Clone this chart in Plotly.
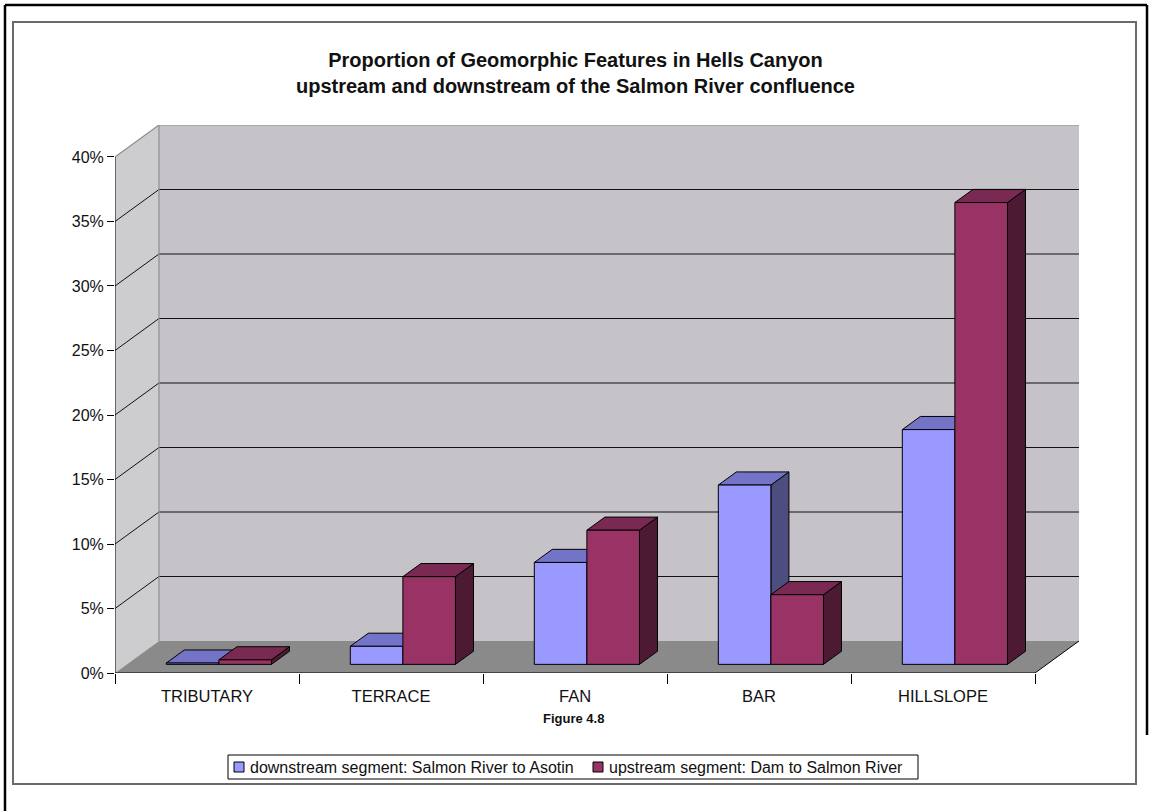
import plotly.graph_objects as go

# ---- data -------------------------------------------------------------
categories = ["TRIBUTARY", "TERRACE", "FAN", "BAR", "HILLSLOPE"]
downstream = [0.1, 1.4, 7.9, 13.9, 18.2]   # % of features, Salmon River to Asotin
upstream = [0.35, 6.8, 10.4, 5.4, 35.8]    # % of features, Dam to Salmon River
series_names = [
    "downstream segment: Salmon River to Asotin",
    "upstream segment: Dam to Salmon River",
]
y_ticks = [0, 5, 10, 15, 20, 25, 30, 35, 40]
y_tick_labels = [f"{v}%" for v in y_ticks]

# ---- layout geometry --------------------------------------------------
W, H = 1151, 811
ML, MR, MT, MB = 115, 72, 125, 138
PW, PH = W - ML - MR, H - MT - MB

FONT = "Liberation Sans, Arial, sans-serif"
Y_MAX = 40
DX = 0.239          # depth of the 3-D box along x (category units)
DY = 2.48           # depth of the 3-D box along y (percent units)
X0, X1 = -0.5, len(categories) - 0.5
BAR_W = 1 / 3.5     # gap width 150%
F_FRONT, F_BACK = 0.27, 0.68   # bar front/back planes as a fraction of depth

FACE = {
    "down": {"front": "#9999FF", "top": "#7373C8", "side": "#4D4D80"},
    "up": {"front": "#993366", "top": "#7A2952", "side": "#4D1A33"},
}


def px_x(p):
    return (p - ML) / PW


def px_y(p):
    return (H - MB - p) / PH


def poly(pts):
    return "M " + " L ".join(f"{x},{y}" for x, y in pts) + " Z"


shapes = []
# side wall
shapes.append(dict(type="path", xref="x", yref="y", layer="below",
                   path=poly([(X0, 0), (X0 + DX, DY), (X0 + DX, Y_MAX + DY), (X0, Y_MAX)]),
                   fillcolor="#CDCDCF", line=dict(width=0)))
# back wall
shapes.append(dict(type="rect", xref="x", yref="y", layer="below",
                   x0=X0 + DX, x1=X1 + DX, y0=DY, y1=Y_MAX + DY,
                   fillcolor="#C5C3C7", line=dict(width=0)))
# floor
shapes.append(dict(type="path", xref="x", yref="y", layer="below",
                   path=poly([(X0, 0), (X1, 0), (X1 + DX, DY), (X0 + DX, DY)]),
                   fillcolor="#8A8A8A", line=dict(width=0)))
# gridlines on back wall and side wall
for k in y_ticks[1:-1]:
    shapes.append(dict(type="line", xref="x", yref="y", layer="below",
                       x0=X0 + DX, x1=X1 + DX, y0=k + DY, y1=k + DY,
                       line=dict(color="#111111", width=1)))
    shapes.append(dict(type="line", xref="x", yref="y", layer="below",
                       x0=X0, x1=X0 + DX, y0=k, y1=k + DY,
                       line=dict(color="#111111", width=1)))
# wall edges
for seg in [((X0, Y_MAX), (X0 + DX, Y_MAX + DY)),
            ((X0 + DX, Y_MAX + DY), (X1 + DX, Y_MAX + DY)),
            ((X0 + DX, DY), (X0 + DX, Y_MAX + DY))]:
    shapes.append(dict(type="line", xref="x", yref="y", layer="below",
                       x0=seg[0][0], y0=seg[0][1], x1=seg[1][0], y1=seg[1][1],
                       line=dict(color="#8E8E8E", width=1.2)))
# front axes
for seg in [((X0, 0), (X0, Y_MAX)), ((X0, 0), (X1, 0)), ((X1, 0), (X1 + DX, DY))]:
    shapes.append(dict(type="line", xref="x", yref="y", layer="above",
                       x0=seg[0][0], y0=seg[0][1], x1=seg[1][0], y1=seg[1][1],
                       line=dict(color="#000000", width=1)))

# outer frames
shapes.append(dict(type="rect", xref="paper", yref="paper",
                   x0=px_x(13), x1=px_x(1136), y0=px_y(784), y1=px_y(22),
                   line=dict(color="#6A6A6A", width=2)))
for a, b in [((5, 5), (5, 811)), ((5, 5), (1147, 5)), ((1147, 5), (1147, 735))]:
    shapes.append(dict(type="line", xref="paper", yref="paper",
                       x0=px_x(a[0]), y0=px_y(a[1]), x1=px_x(b[0]), y1=px_y(b[1]),
                       line=dict(color="#000000", width=2.5)))

fig = go.Figure()

# 3-D columns: side, top and front faces, drawn back-to-front per category
d = (F_BACK - F_FRONT) * DX
e = (F_BACK - F_FRONT) * DY
base = F_FRONT * DY
for i, cat in enumerate(categories):
    for key, vals, left in (("down", downstream, -BAR_W), ("up", upstream, 0.0)):
        v = vals[i]
        xl = i + left + F_FRONT * DX
        xr = xl + BAR_W
        top = base + v
        faces = [
            ("side", [(xr, base), (xr + d, base + e), (xr + d, top + e), (xr, top)]),
            ("top", [(xl, top), (xr, top), (xr + d, top + e), (xl + d, top + e)]),
            ("front", [(xl, base), (xr, base), (xr, top), (xl, top)]),
        ]
        for face, pts in faces:
            xs = [p[0] for p in pts] + [pts[0][0]]
            ys = [p[1] for p in pts] + [pts[0][1]]
            fig.add_trace(go.Scatter(
                x=xs, y=ys, mode="lines", fill="toself",
                fillcolor=FACE[key][face], line=dict(color="#000000", width=1),
                showlegend=False, hoverinfo="skip"))

# legend box
shapes.append(dict(type="rect", xref="paper", yref="paper",
                   x0=px_x(228), x1=px_x(918), y0=px_y(779), y1=px_y(755),
                   fillcolor="white", line=dict(color="#000000", width=1)))
annotations = []
for name, color, sx in ((series_names[0], FACE["down"]["front"], 234),
                        (series_names[1], FACE["up"]["front"], 593)):
    shapes.append(dict(type="rect", xref="paper", yref="paper",
                       x0=px_x(sx), x1=px_x(sx + 10), y0=px_y(772), y1=px_y(762),
                       fillcolor=color, line=dict(color="#000000", width=1)))
    annotations.append(dict(xref="paper", yref="paper", x=px_x(sx + 14), y=px_y(767),
                            text=name, showarrow=False, xanchor="left", yanchor="middle",
                            font=dict(family=FONT, size=16, color="#111111")))

annotations.append(dict(xref="paper", yref="paper", x=px_x(573), y=px_y(718),
                        text="<b>Figure 4.8</b>", showarrow=False,
                        xanchor="center", yanchor="middle",
                        font=dict(family=FONT, size=13, color="#111111")))

fig.update_layout(
    width=W, height=H,
    margin=dict(l=ML, r=MR, t=MT, b=MB, pad=0),
    paper_bgcolor="white", plot_bgcolor="rgba(0,0,0,0)",
    showlegend=False,
    title=dict(
        text="<b>Proportion of Geomorphic Features in Hells Canyon<br>"
             "upstream and downstream of the Salmon River confluence</b>",
        x=0.5, xref="container", xanchor="center",
        y=1 - 66.5 / H, yref="container", yanchor="middle",
        font=dict(family=FONT, size=20, color="#111111")),
    xaxis=dict(range=[X0, X1 + DX], tickvals=list(range(len(categories))),
               ticktext=categories, ticks="", showgrid=False, zeroline=False,
               showline=False, tickfont=dict(family=FONT, size=16.5, color="#111111"),
               ticklabelstandoff=11,
               minor=dict(tickvals=[X0 + k for k in range(len(categories) + 1)],
                          ticks="outside", ticklen=10, tickcolor="#000000",
                          tickwidth=1, showgrid=False),
               fixedrange=True),
    yaxis=dict(range=[0, Y_MAX + DY], tickvals=y_ticks, ticktext=y_tick_labels,
               ticks="outside", ticklen=7, tickcolor="#000000", showgrid=False,
               zeroline=False, showline=False,
               tickfont=dict(family=FONT, size=16, color="#111111"),
               fixedrange=True),
    shapes=shapes,
    annotations=annotations,
)

fig.write_html("out.html")
